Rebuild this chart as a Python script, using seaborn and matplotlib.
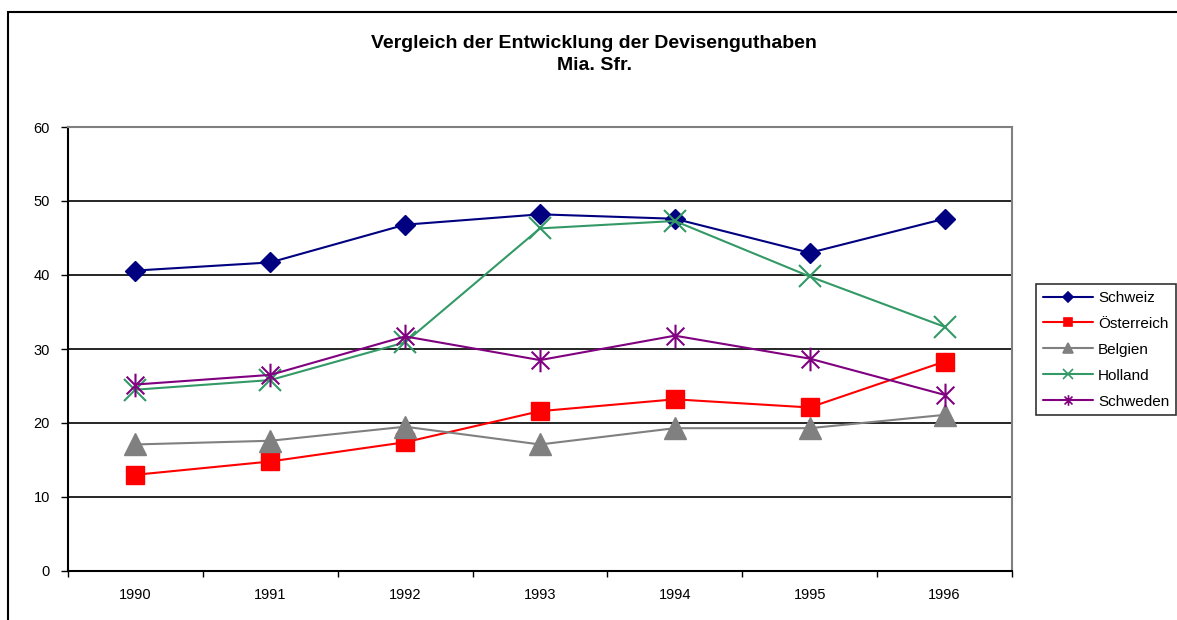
import matplotlib
matplotlib.use("Agg")
import matplotlib.pyplot as plt
import seaborn as sns
import numpy as np
from matplotlib.path import Path
from matplotlib.lines import Line2D
from matplotlib.patches import Rectangle

years = ["1990", "1991", "1992", "1993", "1994", "1995", "1996"]
schweiz = [40.6, 41.7, 46.8, 48.2, 47.6, 43.0, 47.6]
oesterreich = [13.0, 14.8, 17.4, 21.6, 23.2, 22.1, 28.3]
belgien = [17.1, 17.6, 19.5, 17.1, 19.3, 19.3, 21.1]
holland = [24.5, 25.8, 30.9, 46.3, 47.3, 39.8, 33.0]
schweden = [25.2, 26.5, 31.7, 28.5, 31.8, 28.7, 23.8]

names = ["Schweiz", "Österreich", "Belgien", "Holland", "Schweden"]
series = [schweiz, oesterreich, belgien, holland, schweden]

sns.set_theme(style="white")
plt.rcParams["font.family"] = ["Liberation Sans", "DejaVu Sans"]
plt.rcParams["text.color"] = "black"
plt.rcParams["xtick.color"] = "black"
plt.rcParams["ytick.color"] = "black"
plt.rcParams["axes.labelcolor"] = "black"

asterisk = Path([(0, -1), (0, 1), (-0.75, -0.75), (0.75, 0.75), (-0.75, 0.75), (0.75, -0.75)],
                [Path.MOVETO, Path.LINETO, Path.MOVETO, Path.LINETO, Path.MOVETO, Path.LINETO])

styles = [
    dict(color="#000080", marker="D", ms=10.5, mew=1),
    dict(color="#FF0000", marker="s", ms=13.5, mew=1),
    dict(color="#808080", marker="^", ms=16, mew=1),
    dict(color="#339966", marker="x", ms=16, mew=1.5),
    dict(color="#800080", marker=asterisk, ms=17, mew=1.5),
]

fig = plt.figure(figsize=(11.77, 6.2), dpi=100)
ax = fig.add_axes([68/1177, 1-571/620, (1012-68)/1177, (571-127)/620])

x = np.arange(len(years))
for name, vals, st in zip(names, series, styles):
    sns.lineplot(x=x, y=vals, ax=ax, color=st["color"], marker=st["marker"],
                 markersize=st["ms"], markeredgewidth=st["mew"],
                 markeredgecolor=st["color"], markerfacecolor=st["color"],
                 linewidth=1.5, legend=False)

ax.set_xlim(-0.5, len(years) - 0.5)
ax.set_ylim(0, 60)
ax.set_yticks(np.arange(0, 61, 10))
ax.set_xticks(x)
ax.set_xticklabels(years)
ax.set_xticks(np.arange(-0.5, len(years), 1), minor=True)
ax.tick_params(axis="x", which="major", length=0, pad=12, labelsize=10.5, colors="black")
ax.tick_params(axis="x", which="minor", length=4, width=1, direction="out", bottom=True, color="black")
ax.tick_params(axis="y", which="major", length=5, width=1, direction="out", left=True, pad=8,
               labelsize=10.5, color="black")
ax.grid(axis="y", color="black", linewidth=1.2)
ax.grid(axis="x", visible=False)
ax.set_axisbelow(True)
ax.set_xlabel("")
ax.set_ylabel("")
for s in ["left", "bottom"]:
    ax.spines[s].set_color("black")
    ax.spines[s].set_linewidth(1.5)
for s in ["top", "right"]:
    ax.spines[s].set_color("#808080")
    ax.spines[s].set_linewidth(1.5)

fig.text(0.505, 1-44/620, "Vergleich der Entwicklung der Devisenguthaben", ha="center", va="center",
         fontsize=14, fontweight="bold", color="black")
fig.text(0.505, 1-66/620, "Mia. Sfr.", ha="center", va="center", fontsize=14, fontweight="bold",
         color="black")

handles = []
for name, st in zip(names, styles):
    handles.append(Line2D([0], [0], color=st["color"], marker=st["marker"], linewidth=1.5,
                          markersize=st["ms"] * 0.45, markeredgewidth=1.2,
                          markerfacecolor=st["color"], markeredgecolor=st["color"], label=name))
leg = fig.legend(handles=handles, loc="upper left", bbox_to_anchor=(1036/1177, 1-284/620),
                 frameon=True, fancybox=False, fontsize=11, handlelength=3.3, handletextpad=0.3,
                 borderpad=0.45, labelspacing=0.78, borderaxespad=0)
leg.get_frame().set_edgecolor("black")
leg.get_frame().set_linewidth(1.2)
for t in leg.get_texts():
    t.set_color("black")

fig.patches.append(Rectangle((8/1177, -0.2), 1.2, 1.2-12/620, transform=fig.transFigure,
                             fill=False, edgecolor="black", linewidth=1.5))

fig.savefig("out.png", dpi=100)
